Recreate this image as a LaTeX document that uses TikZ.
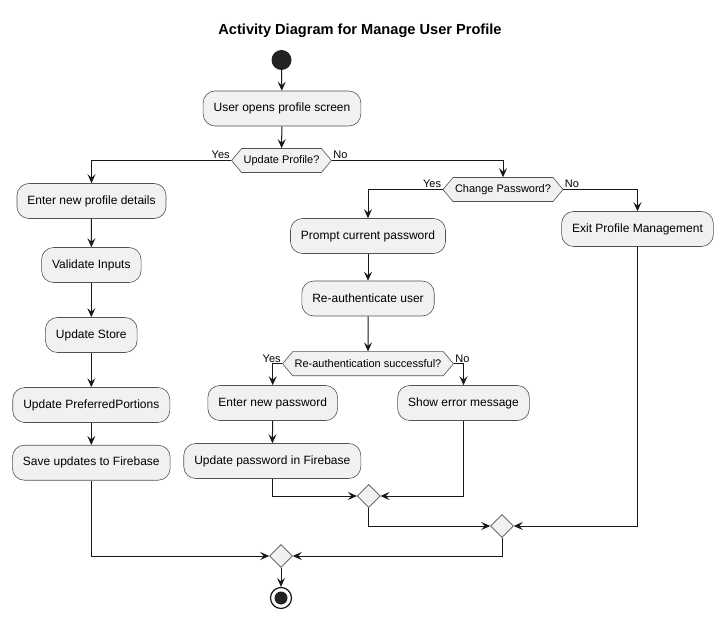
\documentclass[tikz,border=0pt]{standalone}
\usepackage{fontspec}
\setmainfont{Liberation Sans}
\usetikzlibrary{arrows.meta,shapes.geometric,shapes.symbols}
\definecolor{actfill}{HTML}{F1F1F1}
\definecolor{ink}{HTML}{181818}
\definecolor{dot}{HTML}{222222}
\begin{document}
\begin{tikzpicture}[x=1pt, y=-1pt, >={Stealth[length=9pt,width=8pt,inset=3.5pt]},
	act/.style={draw=ink!75, line width=.6pt, fill=actfill, rounded corners=12pt, minimum height=35pt, inner xsep=10.5pt, font=\fontsize{12}{14}\selectfont},
	choice/.style={signal, signal to=west and east, signal pointer angle=100, draw=ink!75, line width=.6pt, fill=actfill, minimum height=24pt, inner xsep=2pt, inner ysep=1pt, font=\fontsize{11}{13}\selectfont},
	merge/.style={diamond, draw=ink!75, line width=.6pt, fill=actfill, minimum size=23pt, inner sep=0pt},
	lbl/.style={inner sep=1pt, font=\fontsize{11}{13}\selectfont},
	flow/.style={->, draw=ink, line width=1pt}]

\useasboundingbox (0,0) rectangle (723,620);
\node [font=\bfseries\fontsize{14.6}{16}\selectfont] (title) at (360,31) {Activity Diagram for Manage User Profile};

\node [circle, fill=dot, minimum size=20pt, inner sep=0pt] (start) at (281.5,60) {};
\node [act] (open) at (282,108.5) {User opens profile screen};
\node [choice] (dUp) at (281.5,160.5) {Update Profile?};

% left branch
\node [act] (enter) at (91.5,201) {Enter new profile details};
\node [act] (valid) at (91.3,265) {Validate Inputs};
\node [act] (store) at (91.3,335) {Update Store};
\node [act] (pref) at (91.3,405) {Update PreferredPortions};
\node [act] (save) at (91.3,462.7) {Save updates to Firebase};

% right branch
\node [choice] (dPw) at (503,189.5) {Change Password?};
\node [act] (prompt) at (368,236) {Prompt current password};
\node [act] (exit) at (637.5,229) {Exit Profile Management};
\node [act] (reauth) at (368,298.5) {Re-authenticate user};
\node [choice] (dRe) at (368,363.7) {Re-authentication successful?};
\node [act] (newpw) at (272.7,403) {Enter new password};
\node [act] (showerr) at (463.5,403) {Show error message};
\node [act] (fbpw) at (272.3,461) {Update password in Firebase};

\node [merge] (m1) at (368.7,496) {};
\node [merge] (m2) at (502,526) {};
\node [merge] (m3) at (281,556) {};
\node [circle, draw=ink, line width=1.2pt, fill=white, minimum size=21pt, inner sep=0pt] (stop) at (281,598) {};
\fill [dot] (stop.center) circle (6.5);

\draw [flow] (start) -- (open);
\draw [flow] (open) -- (dUp);
\draw [flow] (dUp.west) node [lbl, above left]{Yes} -| (enter.north);
\draw [flow] (dUp.east) node [lbl, above right]{No} -| (dPw.north);

\foreach \a/\b in {enter/valid, valid/store, store/pref, pref/save, prompt/reauth, reauth/dRe, newpw/fbpw}
{
	\draw [flow] (\a) -- (\b);
}
\draw [flow] (dPw.west) node [lbl, above left]{Yes} -| (prompt.north);
\draw [flow] (dPw.east) node [lbl, above right]{No} -| (exit.north);
\draw [flow] (dRe.west) node [lbl, above left]{Yes} -| (newpw.north);
\draw [flow] (dRe.east) node [lbl, above right]{No} -| (showerr.north);

\draw [flow] (fbpw.south) |- (m1.west);
\draw [flow] (showerr.south) |- (m1.east);
\draw [flow] (m1.south) |- (m2.west);
\draw [flow] (exit.south) |- (m2.east);
\draw [flow] (m2.south) |- (m3.east);
\draw [flow] (save.south) |- (m3.west);
\draw [flow] (m3) -- (stop);
\end{tikzpicture}
\end{document}
